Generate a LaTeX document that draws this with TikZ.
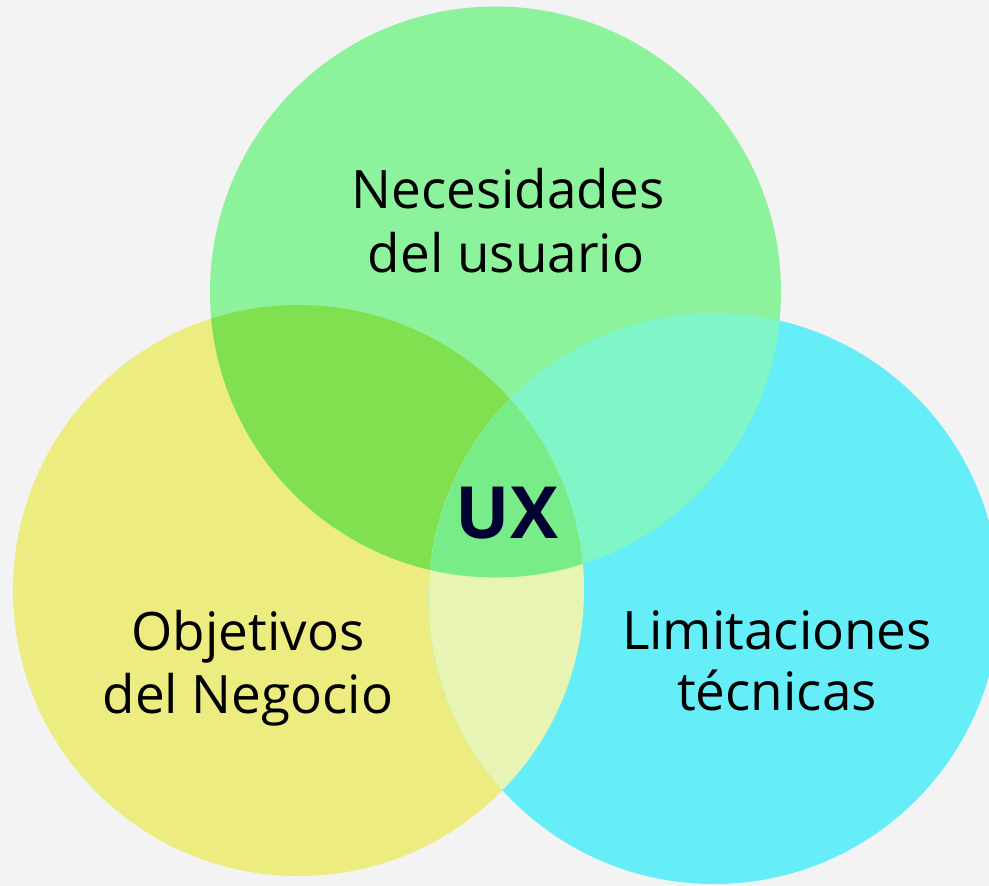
\documentclass[tikz,border=0pt]{standalone}
\usepackage{fontspec}
\setmainfont{Open Sans}
\definecolor{bg}{HTML}{F3F3F3}
\definecolor{cgreen}{HTML}{8CF29B}
\definecolor{cyellow}{HTML}{ECEC80}
\definecolor{ccyan}{HTML}{66EEF8}
\definecolor{cgy}{HTML}{80E050}
\definecolor{cgc}{HTML}{80F5C8}
\definecolor{cyc}{HTML}{E8F4B4}
\definecolor{call}{HTML}{78EC88}
\definecolor{navy}{HTML}{000033}
\begin{document}
\begin{tikzpicture}[x=1pt,y=-1pt,
  lbl/.style={font=\fontsize{53}{60}\selectfont, text=black, anchor=base, inner sep=0pt},
  ux/.style={font=\fontsize{72}{80}\selectfont\bfseries, text=navy, anchor=base, inner sep=0pt}]
\fill[bg] (0,0) rectangle (989,886);
\useasboundingbox (0,0) rectangle (989,886);
\coordinate (G) at (495.5,292);
\coordinate (Y) at (298.5,590.5);
\coordinate (C) at (714,598.5);
\def\R{285.5}
\begin{scope}
\clip (0,0) rectangle (989,886);
\fill[cyellow] (Y) circle (\R);
\fill[ccyan] (C) circle (\R);
\fill[cgreen] (G) circle (\R);
\begin{scope}\clip (G) circle (\R); \fill[cgy] (Y) circle (\R);\end{scope}
\begin{scope}\clip (G) circle (\R); \fill[cgc] (C) circle (\R);\end{scope}
\begin{scope}\clip (Y) circle (\R); \fill[cyc] (C) circle (\R);\end{scope}
\begin{scope}\clip (G) circle (\R); \clip (Y) circle (\R); \fill[call] (C) circle (\R);\end{scope}
\end{scope}
\node[lbl] (n1) at (508,208) {Necesidades};
\node[lbl] (n2) at (506,272) {del usuario};
\node[lbl] (o1) at (248,650) {Objetivos};
\node[lbl] (o2) at (248,713) {del Negocio};
\node[lbl] (l1) at (777,649) {Limitaciones};
\node[lbl] (l2) at (777,710) {técnicas};
\node[ux] (ux) at (507,538) {UX};
\end{tikzpicture}
\end{document}
